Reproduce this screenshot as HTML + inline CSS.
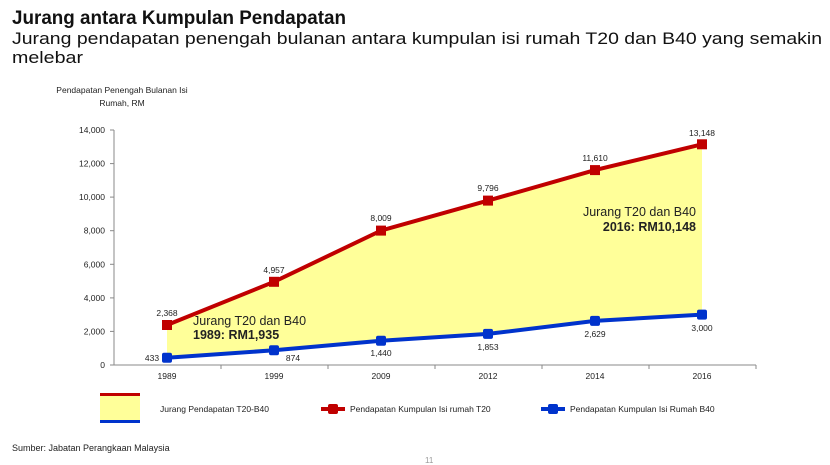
<!DOCTYPE html>
<html><head><meta charset="utf-8"><style>
html,body{margin:0;padding:0;background:#fff;}
svg{display:block;font-family:"Liberation Sans",Arial,sans-serif;}
</style></head><body>
<svg width="830" height="465" viewBox="0 0 830 465" xmlns="http://www.w3.org/2000/svg">
<text x="12" y="24" font-size="19" font-weight="bold" fill="#111" textLength="334" lengthAdjust="spacingAndGlyphs">Jurang antara Kumpulan Pendapatan</text>
<text x="12" y="44" font-size="17" fill="#111" textLength="810" lengthAdjust="spacingAndGlyphs">Jurang pendapatan penengah bulanan antara kumpulan isi rumah T20 dan B40 yang semakin</text>
<text x="12" y="63" font-size="17" fill="#111" textLength="71" lengthAdjust="spacingAndGlyphs">melebar</text>

<text x="122" y="93" font-size="8.5" fill="#222" text-anchor="middle">Pendapatan Penengah Bulanan Isi</text>
<text x="122" y="106" font-size="8.5" fill="#222" text-anchor="middle">Rumah, RM</text>

<polygon fill="#ffff99" points="167,325 274,281.8 381,230.6 488,200.6 595,170.1 702,144.3 702,314.6 595,320.9 488,333.9 381,340.8 274,350.3 167,357.7"/>

<g stroke="#888" stroke-width="1">
<line x1="114" y1="130" x2="114" y2="365"/>
<line x1="114" y1="365" x2="756" y2="365"/>
<line x1="110" y1="130" x2="114" y2="130"/><line x1="110" y1="163.6" x2="114" y2="163.6"/>
<line x1="110" y1="197.1" x2="114" y2="197.1"/><line x1="110" y1="230.7" x2="114" y2="230.7"/>
<line x1="110" y1="264.3" x2="114" y2="264.3"/><line x1="110" y1="297.9" x2="114" y2="297.9"/>
<line x1="110" y1="331.4" x2="114" y2="331.4"/><line x1="110" y1="365" x2="114" y2="365"/>
<line x1="221" y1="365" x2="221" y2="369"/><line x1="328" y1="365" x2="328" y2="369"/>
<line x1="435" y1="365" x2="435" y2="369"/><line x1="542" y1="365" x2="542" y2="369"/>
<line x1="649" y1="365" x2="649" y2="369"/><line x1="756" y1="365" x2="756" y2="369"/>
</g>
<g font-size="8.5" fill="#222" text-anchor="end">
<text x="105" y="133">14,000</text><text x="105" y="166.6">12,000</text>
<text x="105" y="200.1">10,000</text><text x="105" y="233.7">8,000</text>
<text x="105" y="267.3">6,000</text><text x="105" y="300.9">4,000</text>
<text x="105" y="334.4">2,000</text><text x="105" y="368">0</text>
</g>
<g font-size="8.5" fill="#222" text-anchor="middle">
<text x="167" y="379">1989</text><text x="274" y="379">1999</text><text x="381" y="379">2009</text>
<text x="488" y="379">2012</text><text x="595" y="379">2014</text><text x="702" y="379">2016</text>
</g>

<polyline fill="none" stroke="#c00000" stroke-width="4" points="167,325 274,281.8 381,230.6 488,200.6 595,170.1 702,144.3"/>
<polyline fill="none" stroke="#0033cc" stroke-width="4" points="167,357.7 274,350.3 381,340.8 488,333.9 595,320.9 702,314.6"/>
<g fill="#c00000">
<rect x="162" y="320" width="10" height="10"/><rect x="269" y="276.8" width="10" height="10"/>
<rect x="376" y="225.6" width="10" height="10"/><rect x="483" y="195.6" width="10" height="10"/>
<rect x="590" y="165.1" width="10" height="10"/><rect x="697" y="139.3" width="10" height="10"/>
</g>
<g fill="#0033cc">
<rect x="162" y="352.7" width="10" height="10" rx="2"/><rect x="269" y="345.3" width="10" height="10" rx="2"/>
<rect x="376" y="335.8" width="10" height="10" rx="2"/><rect x="483" y="328.9" width="10" height="10" rx="2"/>
<rect x="590" y="315.9" width="10" height="10" rx="2"/><rect x="697" y="309.6" width="10" height="10" rx="2"/>
</g>
<g font-size="8.5" fill="#222" text-anchor="middle">
<text x="167" y="316">2,368</text><text x="274" y="273">4,957</text><text x="381" y="221">8,009</text>
<text x="488" y="191">9,796</text><text x="595" y="161">11,610</text><text x="702" y="136">13,148</text>
<text x="152" y="361">433</text><text x="293" y="361">874</text><text x="381" y="356">1,440</text>
<text x="488" y="350">1,853</text><text x="595" y="337">2,629</text><text x="702" y="331">3,000</text>
</g>
<text x="193" y="325" font-size="12.5" fill="#222">Jurang T20 dan B40</text>
<text x="193" y="339" font-size="12.5" font-weight="bold" fill="#222">1989: RM1,935</text>
<text x="696" y="216" font-size="12.5" fill="#222" text-anchor="end">Jurang T20 dan B40</text>
<text x="696" y="231" font-size="12.5" font-weight="bold" fill="#222" text-anchor="end">2016: RM10,148</text>

<rect x="100" y="395" width="40" height="27" fill="#ffff99"/>
<rect x="100" y="393" width="40" height="3" fill="#c00000"/>
<rect x="100" y="420" width="40" height="3" fill="#0033cc"/>
<text x="160" y="412" font-size="8.5" fill="#222">Jurang Pendapatan T20-B40</text>
<line x1="321" y1="409" x2="345" y2="409" stroke="#c00000" stroke-width="4"/>
<rect x="328" y="404" width="10" height="10" fill="#c00000" rx="2"/>
<text x="350" y="412" font-size="8.5" fill="#222">Pendapatan Kumpulan Isi rumah T20</text>
<line x1="541" y1="409" x2="565" y2="409" stroke="#0033cc" stroke-width="4"/>
<rect x="548" y="404" width="10" height="10" fill="#0033cc" rx="2"/>
<text x="570" y="412" font-size="8.5" fill="#222">Pendapatan Kumpulan Isi Rumah B40</text>

<text x="12" y="451" font-size="9" fill="#222">Sumber: Jabatan Perangkaan Malaysia</text>
<text x="425" y="463" font-size="8" fill="#999">11</text>
</svg>
</body></html>
